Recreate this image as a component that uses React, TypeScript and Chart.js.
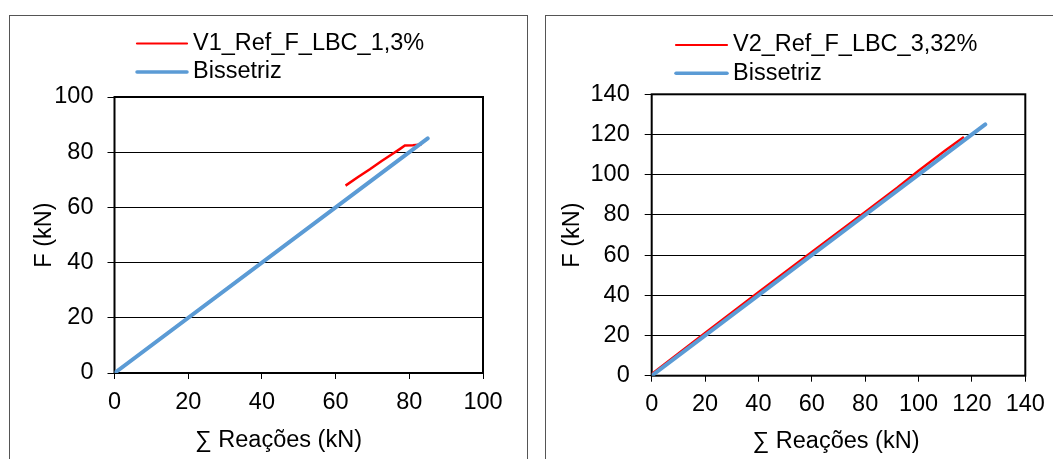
import React, { useEffect, useRef } from "react";
import { Chart, registerables } from "chart.js";

Chart.register(...registerables);

// ---------- data ----------
const BISSETRIZ_LABEL = "Bissetriz";
const X_TITLE = "∑ Reações (kN)";
const Y_TITLE = "F (kN)";

const V1_LABEL = "V1_Ref_F_LBC_1,3%";
const V1_REACOES = [62.7, 66, 69.3, 72.5, 75.7, 77.5, 78.8, 81, 83.3];
const V1_F = [67.9, 70.9, 73.8, 76.8, 79.6, 81.2, 82.4, 82.5, 82.8];
const V1_BIS_X = [0, 85];
const V1_BIS_Y = [0, 85];
const V1_TICKS = [0, 20, 40, 60, 80, 100];

const V2_LABEL = "V2_Ref_F_LBC_3,32%";
const V2_REACOES = [0, 20, 40, 60, 80, 92, 100, 110, 117];
const V2_F = [0.8, 21.2, 41.5, 61.5, 81.5, 93.5, 102, 112, 118.8];
const V2_BIS_X = [0, 125];
const V2_BIS_Y = [0, 125];
const V2_TICKS = [0, 20, 40, 60, 80, 100, 120, 140];

const RED = "#ff0000";
const BLUE = "#5b9bd5";
const FONT = "'Liberation Sans', Arial, sans-serif";
const FS = 23.5;

type Spec = {
  label: string;
  rx: number[];
  ry: number[];
  bx: number[];
  by: number[];
  ticks: number[];
  W: number;
  H: number;
  area: { left: number; top: number; right: number; bottom: number };
  legend: { x0: number; x1: number; tx: number; y0: number; y1: number };
  yTitlePad: number;
  xTitle: { cx: number; cy: number };
  yTickPad: number;
  xTickPad: number;
};

function zip(xs: number[], ys: number[]) {
  return xs.map((x, i) => ({ x, y: ys[i] }));
}

function Panel({ spec }: { spec: Spec }) {
  const ref = useRef<HTMLCanvasElement | null>(null);
  useEffect(() => {
    if (!ref.current) return;
    const s = spec;
    const min = s.ticks[0];
    const max = s.ticks[s.ticks.length - 1];
    const frame = {
      id: "frame",
      beforeDatasetsDraw(chart: any) {
        const { ctx, chartArea: a } = chart;
        ctx.save();
        ctx.strokeStyle = "#000";
        ctx.lineWidth = 2;
        ctx.strokeRect(a.left, a.top, a.right - a.left, a.bottom - a.top);
        ctx.restore();
      },
    };
    const extras = {
      id: "manualLegendAndTitle",
      afterDraw(chart: any) {
        const ctx = chart.ctx;
        const ds = chart.data.datasets.slice().reverse();
        const rows = [s.legend.y0, s.legend.y1];
        const widths = [2.2, 3.5];
        ctx.save();
        ds.forEach((d: any, i: number) => {
          const y = rows[i];
          ctx.strokeStyle = d.borderColor;
          ctx.lineWidth = widths[i];
          ctx.lineCap = "round";
          ctx.beginPath();
          ctx.moveTo(s.legend.x0, y);
          ctx.lineTo(s.legend.x1, y);
          ctx.stroke();
          ctx.fillStyle = "#000";
          ctx.font = `${FS}px ${FONT}`;
          ctx.textBaseline = "middle";
          ctx.textAlign = "left";
          ctx.fillText(d.label, s.legend.tx, y);
        });
        // x-axis title
        ctx.fillStyle = "#000";
        ctx.font = `${FS}px ${FONT}`;
        ctx.textBaseline = "middle";
        ctx.textAlign = "center";
        ctx.fillText(X_TITLE, s.xTitle.cx, s.xTitle.cy);
        ctx.restore();
      },
    };
    const chart = new Chart(ref.current, {
      type: "line",
      data: {
        datasets: [
          {
            label: BISSETRIZ_LABEL,
            data: zip(s.bx, s.by),
            borderColor: BLUE,
            borderWidth: 4,
            pointRadius: 0,
            tension: 0,
            borderCapStyle: "round",
          },
          {
            label: s.label,
            data: zip(s.rx, s.ry),
            borderColor: RED,
            borderWidth: 2.5,
            pointRadius: 0,
            tension: 0,
          },
        ],
      },
      options: {
        responsive: false,
        animation: false,
        devicePixelRatio: 1,
        layout: {
          padding: {
            left: 0,
            top: s.area.top,
            right: s.W - s.area.right,
            bottom: 0,
          },
        },
        plugins: {
          legend: { display: false },
          tooltip: { enabled: false },
        },
        scales: {
          x: {
            type: "linear",
            min,
            max,
            afterBuildTicks: (sc: any) => {
              sc.ticks = s.ticks.map((v) => ({ value: v }));
            },
            afterFit: (sc: any) => {
              sc.height = s.H - s.area.bottom;
            },
            grid: {
              drawOnChartArea: false,
              drawTicks: true,
              tickLength: 6,
              tickColor: "#000",
              color: "#000",
            },
            border: { display: false },
            ticks: {
              color: "#000",
              font: { family: FONT, size: FS },
              padding: s.xTickPad,
              maxRotation: 0,
              autoSkip: false,
            },
            title: { display: false },
          },
          y: {
            type: "linear",
            min,
            max,
            afterBuildTicks: (sc: any) => {
              sc.ticks = s.ticks.map((v) => ({ value: v }));
            },
            afterFit: (sc: any) => {
              sc.width = s.area.left;
            },
            grid: {
              color: "#000",
              lineWidth: 1,
              drawTicks: true,
              tickLength: 7,
              tickColor: "#000",
            },
            border: { display: false },
            ticks: {
              color: "#000",
              font: { family: FONT, size: FS },
              padding: s.yTickPad,
              autoSkip: false,
            },
            title: {
              display: true,
              text: Y_TITLE,
              color: "#000",
              font: { family: FONT, size: FS },
              padding: { top: s.yTitlePad, bottom: 0 },
            },
          },
        },
      },
      plugins: [frame, extras],
    } as any);
    return () => chart.destroy();
  }, [spec]);
  return (
    <canvas
      ref={ref}
      width={spec.W}
      height={spec.H}
      style={{ display: "block", width: spec.W, height: spec.H }}
    />
  );
}

const LEFT: Spec = {
  label: V1_LABEL,
  rx: V1_REACOES,
  ry: V1_F,
  bx: V1_BIS_X,
  by: V1_BIS_Y,
  ticks: V1_TICKS,
  W: 516,
  H: 443,
  area: { left: 104.5, top: 81, right: 473, bottom: 357 },
  legend: { x0: 127, x1: 177, tx: 183, y0: 27.5, y1: 56 },
  yTitlePad: 20,
  xTitle: { cx: 268.5, cy: 424.5 },
  yTickPad: 14,
  xTickPad: 9,
};

const RIGHT: Spec = {
  label: V2_LABEL,
  rx: V2_REACOES,
  ry: V2_F,
  bx: V2_BIS_X,
  by: V2_BIS_Y,
  ticks: V2_TICKS,
  W: 516,
  H: 443,
  area: { left: 105.7, top: 78.3, right: 479.3, bottom: 359.7 },
  legend: { x0: 130, x1: 181, tx: 187, y0: 29, y1: 57.3 },
  yTitlePad: 12.5,
  xTitle: { cx: 290, cy: 426 },
  yTickPad: 15,
  xTickPad: 8.5,
};

export default function App() {
  return (
    <div
      style={{
        position: "fixed",
        left: 0,
        top: 0,
        width: 1053,
        height: 459,
        overflow: "hidden",
        background: "#fff",
      }}
    >
      <div
        style={{
          position: "absolute",
          left: 9,
          top: 15,
          width: 517,
          height: 460,
          borderLeft: "1px solid #555",
          borderTop: "1px solid #555",
          borderRight: "1px solid #555",
        }}
      >
        <Panel spec={LEFT} />
      </div>
      <div
        style={{
          position: "absolute",
          left: 545,
          top: 15,
          width: 530,
          height: 460,
          borderLeft: "1px solid #555",
          borderTop: "1px solid #555",
        }}
      >
        <Panel spec={RIGHT} />
      </div>
    </div>
  );
}
